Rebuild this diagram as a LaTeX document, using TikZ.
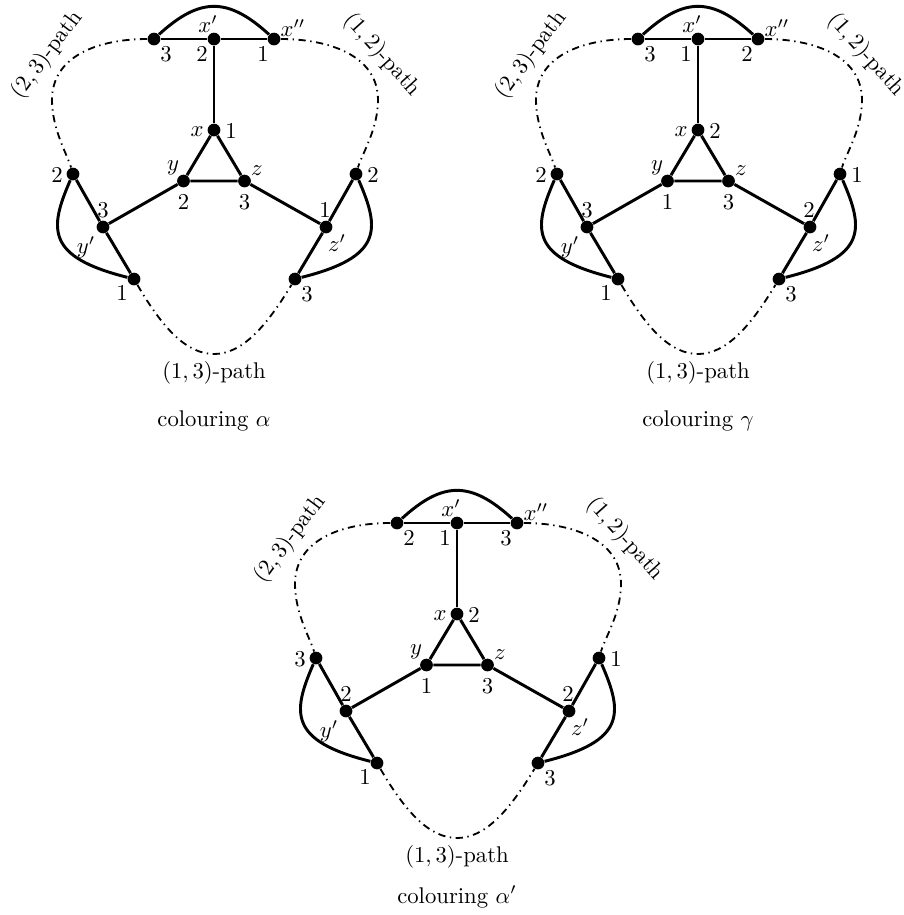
\documentclass[tikz,border=0pt]{standalone}
\begin{document}
\begin{tikzpicture}[x=0.4405pt,y=-0.4405pt,
  vtx/.style={circle,fill=black,inner sep=0pt,minimum size=5.6pt},
  edge/.style={line width=1.3pt},
  dd/.style={line width=0.8pt,dash pattern=on 3.2pt off 2pt on 0.6pt off 2pt},
  lbl/.style={inner sep=0pt}]
\useasboundingbox (0,0) rectangle (904,915);
\foreach \p/\sx/\sy/\ca/\cb/\cc/\cd/\ce/\cf/\cg/\ch/\ci/\cj/\ck/\cl/\cap/\capy in {
  A/214/39/3/2/1/1/2/3/2/3/1/2/1/3/{colouring $\alpha$}/382,
  B/698/39/3/1/2/2/1/3/2/3/1/1/2/3/{colouring $\gamma$}/382,
  C/457/523/2/1/3/2/1/3/3/2/1/1/2/3/{colouring $\alpha'$}/374}{
\begin{scope}[shift={(\sx,\sy)}]
  % vertices
  \node[vtx] (\p-xl)  at (-60,0) {};
  \node[vtx] (\p-xp)  at (0,0) {};
  \node[vtx] (\p-xpp) at (60,0) {};
  \node[vtx] (\p-x)   at (0,91) {};
  \node[vtx] (\p-y)   at (-30.5,142) {};
  \node[vtx] (\p-z)   at (30.5,142) {};
  \node[vtx] (\p-L)   at (-141,135) {};
  \node[vtx] (\p-yp)  at (-111,188) {};
  \node[vtx] (\p-BL)  at (-80,240) {};
  \node[vtx] (\p-R)   at (142,135) {};
  \node[vtx] (\p-zp)  at (112,188) {};
  \node[vtx] (\p-BR)  at (81,240) {};
  \coordinate (\p-lm) at (-162,61);
  \coordinate (\p-rm) at (164,61);
  \coordinate (\p-bm) at (0,315);
  % solid edges
  \draw[edge] (\p-xl) -- (\p-xp) -- (\p-xpp);
  \draw[edge] (\p-xp) -- (\p-x);
  \draw[edge] (\p-x) -- (\p-y) -- (\p-z) -- (\p-x);
  \draw[edge] (\p-y) -- (\p-yp);
  \draw[edge] (\p-z) -- (\p-zp);
  \draw[edge] (\p-L) -- (\p-yp) -- (\p-BL);
  \draw[edge] (\p-R) -- (\p-zp) -- (\p-BR);
  \draw[edge] (\p-xl) .. controls (-14,-42) and (14,-42) .. (\p-xpp);
  \draw[edge] (\p-L) .. controls (-165,190) and (-168,218) .. (\p-BL);
  \draw[edge] (\p-R) .. controls (166,190) and (169,218) .. (\p-BR);
  % dash-dot paths
  \draw[dd] (\p-xl) .. controls (-114,0) and (-162,16) .. (\p-lm)
            .. controls (-162,90) and (-147,115) .. (\p-L);
  \draw[dd] (\p-xpp) .. controls (114,0) and (164,16) .. (\p-rm)
            .. controls (164,90) and (148,115) .. (\p-R);
  \draw[dd] (\p-BL) .. controls (-52,288) and (-28,315) .. (\p-bm)
            .. controls (28,315) and (52,288) .. (\p-BR);
  % vertex names
  \node[lbl] at (-6,-15) {$x'$};
  \node[lbl] at (79,-11) {$x''$};
  \node[lbl] at (-17,93) {$x$};
  \node[lbl] at (-41,129) {$y$};
  \node[lbl] at (43,132) {$z$};
  \node[lbl] at (-128,208) {$y'$};
  \node[lbl] at (123,204) {$z'$};
  % colours
  \node[lbl] at (-48,15) {$\ca$};
  \node[lbl] at (-12,15) {$\cb$};
  \node[lbl] at (49,15) {$\cc$};
  \node[lbl] at (17,92) {$\cd$};
  \node[lbl] at (-30.5,163) {$\ce$};
  \node[lbl] at (30.5,163) {$\cf$};
  \node[lbl] at (-157,136) {$\cg$};
  \node[lbl] at (-111,171) {$\ch$};
  \node[lbl] at (-92,254) {$\ci$};
  \node[lbl] at (159,136) {$\cj$};
  \node[lbl] at (111,171) {$\ck$};
  \node[lbl] at (93,255) {$\cl$};
  % path labels
  \node[lbl,rotate=53] at (-167,16) {$(2,3)$-path};
  \node[lbl,rotate=-48] at (168,16) {$(1,2)$-path};
  \node[lbl] at (0,334) {$(1,3)$-path};
  \node[lbl] at (0,\capy) {\cap};
\end{scope}}
\end{tikzpicture}
\end{document}
